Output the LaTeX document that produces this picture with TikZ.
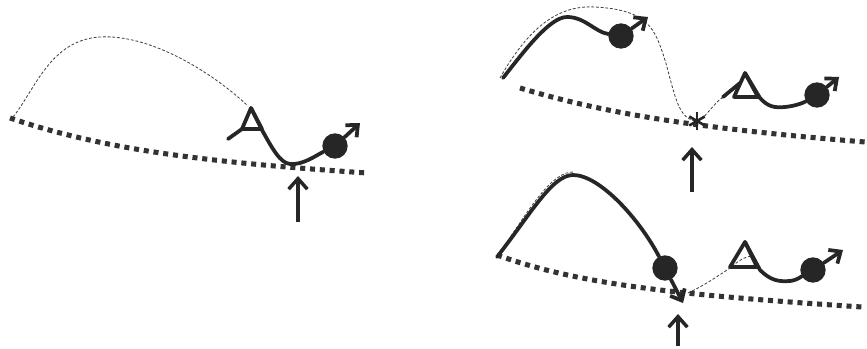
\documentclass[tikz,border=0pt]{standalone}
\usetikzlibrary{arrows.meta}
\begin{document}
\begin{tikzpicture}[x=0.03cm,y=-0.03cm]
\tikzset{
  ground/.style={line width=4.3pt, dash pattern=on 4.3pt off 4.1pt, black!80},
  track/.style={line width=3.2pt, black!85, line cap=round, line join=round},
  trail/.style={line width=0.7pt, dash pattern=on 2.4pt off 1.6pt, black!75},
  ball/.style={circle, fill=black!85, minimum size=0.76cm, inner sep=0pt},
  tip/.style={-{Straight Barb[length=8pt,width=14pt]}},
  uparrow/.style={line width=3pt, black!85, -{Straight Barb[length=9pt,width=16pt]}},
  asterisk/.style={line width=2.2pt, black!85}
}
\useasboundingbox (0,0) rectangle (867,349);

% ---------- left panel ----------
\coordinate (g1s) at (10,118);
\coordinate (g1e) at (367,173);
\draw[ground] (g1s) .. controls (110,152) and (220,163) .. (g1e);
\coordinate (t1s) at (13,117);
\coordinate (a1) at (251,108);
\draw[trail] (t1s) .. controls (35,90) and (50,40) .. (100,37)
  .. controls (150,34) and (212,72) .. (248,106);
\node[ball] (b1) at (335,146) {};
\draw[track] (242,129) -- (a1) -- (262,129) -- cycle;
\draw[track] (228,139) -- (242,129);
\draw[track] (a1) -- (262,130) .. controls (272,148) and (280,163) .. (290,164)
  .. controls (303,165) and (315,156) .. (b1);
\coordinate (e1) at (360,123);
\draw[track,tip] (b1) -- (e1);
\coordinate (u1s) at (298,222);
\coordinate (u1e) at (298,176);
\draw[uparrow] (u1s) -- (u1e);

% ---------- top right panel ----------
\coordinate (g2s) at (520,88);
\coordinate (g2e) at (865,142);
\draw[ground] (g2s) .. controls (600,112) and (690,128) .. (g2e);
\coordinate (ast) at (697,121);
\draw[trail] (500,78) .. controls (530,25) and (560,5) .. (595,7)
  .. controls (650,10) and (655,30) .. (665,60)
  .. controls (675,95) and (678,120) .. (ast)
  .. controls (703,121) and (712,105) .. (723,97);
\foreach \a in {90,30,150}
  \draw[asterisk] (ast) ++(\a:9) -- ++(\a+180:18);
\node[ball] (b2) at (621,36) {};
\draw[track] (503,78) .. controls (525,50) and (550,17) .. (567,17)
  .. controls (585,17) and (595,32) .. (b2);
\coordinate (e2) at (648,17);
\draw[track,tip] (b2) -- (e2);
\coordinate (a2) at (745,73);
\draw[track] (734,97) -- (a2) -- (758,97) -- cycle;
\draw[track] (723,97) -- (740,83);
\node[ball] (b3) at (817,95) {};
\draw[track] (a2) -- (760,98) .. controls (768,107) and (775,108) .. (785,107)
  .. controls (795,106) and (803,103) .. (b3);
\coordinate (e3) at (839,77);
\draw[track,tip] (b3) -- (e3);
\coordinate (u2s) at (692,192);
\coordinate (u2e) at (692,147);
\draw[uparrow] (u2s) -- (u2e);

% ---------- bottom right panel ----------
\coordinate (g3s) at (497,255);
\coordinate (g3e) at (862,307);
\draw[ground] (g3s) .. controls (580,285) and (680,295) .. (g3e);
\draw[trail] (503,248) .. controls (530,208) and (552,171) .. (574,172);
\node[ball] (b4) at (665,268) {};
\draw[track] (497,257) .. controls (530,215) and (552,175) .. (573,175)
  .. controls (600,175) and (640,220) .. (b4);
\coordinate (e4) at (683,303);
\draw[track,tip] (b4) -- (e4);
\coordinate (a3) at (745,242);
\draw[trail] (688,293) .. controls (705,285) and (718,276) .. (730,268)
  .. controls (737,262) and (744,257) .. (751,256);
\draw[track] (730,267) -- (a3) -- (757,267) -- cycle;
\node[ball] (b5) at (813,270) {};
\draw[track] (a3) -- (760,270) .. controls (770,280) and (778,282) .. (790,281)
  .. controls (798,280) and (802,276) .. (b5);
\coordinate (e5) at (843,250);
\draw[track,tip] (b5) -- (e5);
\coordinate (u3s) at (678,346);
\coordinate (u3e) at (678,314);
\draw[uparrow] (u3s) -- (u3e);
\end{tikzpicture}
\end{document}
